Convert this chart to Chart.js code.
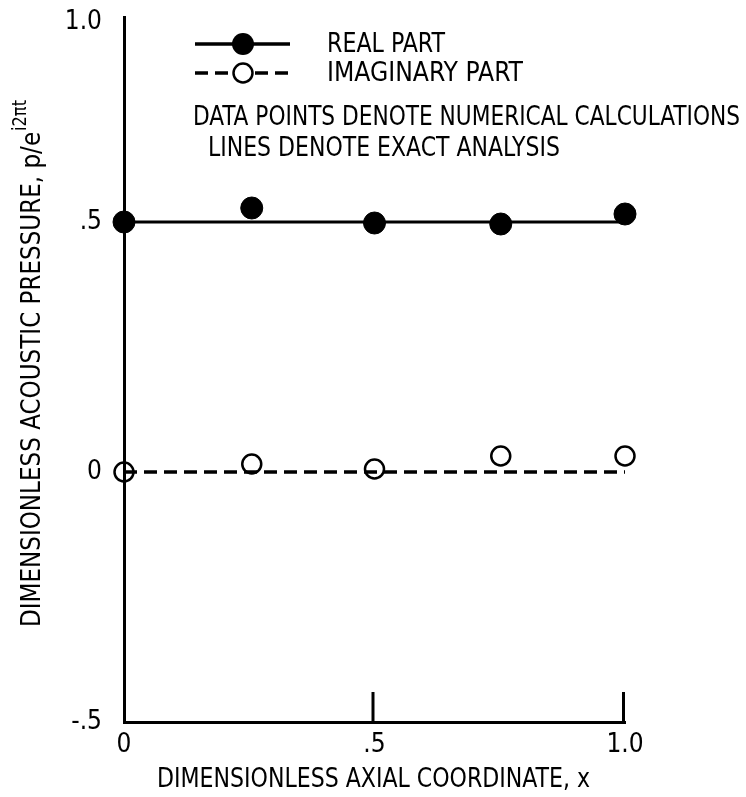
<!DOCTYPE html>
<html>
<head>
<meta charset="utf-8">
<script src="https://cdn.jsdelivr.net/npm/chart.js@4.4.1/dist/chart.umd.min.js"></script>
<style>
  html, body { margin: 0; padding: 0; background: #fff; }
  #wrap { width: 746px; height: 797px; }
</style>
</head>
<body>
<div id="wrap"><canvas id="chart" width="746" height="797"></canvas></div>
<script>
const FONT = '"Liberation Sans Narrow", "DejaVu Sans Condensed", sans-serif';

// numerical calculations (points)
const xPoints = [0, 0.255, 0.5, 0.752, 1.0];
const realCalc = [0.5, 0.528, 0.498, 0.496, 0.516];
const imagCalc = [0, 0.016, 0.006, 0.032, 0.032];

// exact analysis (lines)
const xExact = [0, 1.0];
const realExact = [0.5, 0.5];
const imagExact = [0, 0];

// axes
const xTickValues = [0, 0.5, 1.0];
const xTickLabels = ["0", ".5", "1.0"];
const xTickMarks = [0.5, 1.0];
const yTickValues = [-0.5, 0, 0.5, 0.9];
const yTickLabels = ["-.5", "0", ".5", "1.0"];

const legendLabels = ["REAL PART", "IMAGINARY PART"];
const noteLines = [
  "DATA POINTS DENOTE NUMERICAL CALCULATIONS",
  "LINES DENOTE EXACT ANALYSIS",
];
const xTitle = "DIMENSIONLESS AXIAL COORDINATE, x";
const yTitleMain = "DIMENSIONLESS ACOUSTIC PRESSURE, p/e";
const yTitleSup = "i2\u03c0t";

const toXY = (xs, ys) => xs.map((x, i) => ({ x, y: ys[i] }));

// draw text squeezed/stretched to a given width, left edge at x
function fitText(c, text, x, y, width, size) {
  c.font = `${size}px ${FONT}`;
  const w = c.measureText(text).width;
  c.save();
  c.translate(x, y);
  c.scale(width / w, 1);
  c.fillText(text, 0, 0);
  c.restore();
}

// short ticks pointing up into the plot
const innerTicks = {
  id: "innerTicks",
  afterDraw(chart) {
    const { ctx, chartArea } = chart;
    const x = chart.scales.x;
    ctx.save();
    ctx.strokeStyle = "#000";
    ctx.lineWidth = 3;
    xTickMarks.forEach((v) => {
      const px = x.getPixelForValue(v) - 1.5;
      ctx.beginPath();
      ctx.moveTo(px, chartArea.bottom + 1);
      ctx.lineTo(px, chartArea.bottom - 30);
      ctx.stroke();
    });
    ctx.restore();
  },
};

// legend samples, notes and axis titles
const textLayer = {
  id: "textLayer",
  afterDraw(chart) {
    const c = chart.ctx;
    c.save();
    c.strokeStyle = "#000";
    c.fillStyle = "#000";

    // solid + filled circle
    c.lineWidth = 3.5;
    c.beginPath();
    c.moveTo(195, 44);
    c.lineTo(290, 44);
    c.stroke();
    c.beginPath();
    c.arc(243, 44, 11, 0, Math.PI * 2);
    c.fill();

    // dashed + open circle
    c.lineWidth = 3.5;
    c.setLineDash([13, 7]);
    c.beginPath();
    c.moveTo(195, 73);
    c.lineTo(290, 73);
    c.stroke();
    c.setLineDash([]);
    c.lineWidth = 2.5;
    c.beginPath();
    c.arc(243, 73, 9.5, 0, Math.PI * 2);
    c.fillStyle = "#fff";
    c.fill();
    c.stroke();

    c.fillStyle = "#000";
    c.textBaseline = "middle";
    c.textAlign = "left";
    fitText(c, legendLabels[0], 327, 45, 118, 27);
    fitText(c, legendLabels[1], 327, 74, 196, 27);
    fitText(c, noteLines[0], 193, 118, 547, 27);
    fitText(c, noteLines[1], 208, 149, 352, 27);
    fitText(c, xTitle, 157, 780, 433, 27);

    // y title, rotated, with superscript
    c.font = `27px ${FONT}`;
    const w1 = c.measureText(yTitleMain).width;
    c.font = `19px ${FONT}`;
    const w2 = c.measureText(yTitleSup).width;
    const total = w1 + w2 + 1;
    c.translate(33, 627);
    c.rotate(-Math.PI / 2);
    c.scale(527 / total, 1);
    c.font = `27px ${FONT}`;
    c.fillText(yTitleMain, 0, 0);
    c.font = `19px ${FONT}`;
    c.fillText(yTitleSup, w1 + 1, -12);
    c.restore();
  },
};

const ctx = document.getElementById("chart").getContext("2d");

new Chart(ctx, {
  type: "scatter",
  data: {
    datasets: [
      {
        label: "REAL PART",
        data: toXY(xPoints, realCalc),
        pointRadius: 11,
        pointBackgroundColor: "#000",
        pointBorderColor: "#000",
        pointBorderWidth: 1,
        showLine: false,
        clip: false,
        order: 0,
      },
      {
        label: "IMAGINARY PART",
        data: toXY(xPoints, imagCalc),
        pointRadius: 9.5,
        pointBackgroundColor: "rgba(0,0,0,0)",
        pointBorderColor: "#000",
        pointBorderWidth: 2.5,
        showLine: false,
        clip: false,
        order: 0,
      },
      {
        label: "real exact",
        data: toXY(xExact, realExact),
        showLine: true,
        borderColor: "#000",
        borderWidth: 3,
        pointRadius: 0,
        order: 1,
      },
      {
        label: "imag exact",
        data: toXY(xExact, imagExact),
        showLine: true,
        borderColor: "#000",
        borderWidth: 3.5,
        borderDash: [13, 7],
        pointRadius: 0,
        order: 1,
      },
    ],
  },
  options: {
    responsive: false,
    animation: false,
    devicePixelRatio: 1,
    layout: { padding: { top: 17, right: 121, left: 0, bottom: 0 } },
    plugins: { legend: { display: false }, tooltip: { enabled: false } },
    scales: {
      x: {
        type: "linear",
        min: 0,
        max: 1,
        afterBuildTicks: (s) => {
          s.ticks = xTickValues.map((v) => ({ value: v }));
        },
        afterFit: (s) => {
          s.height = 75;
          s.paddingLeft = 0;
          s.paddingRight = 0;
        },
        ticks: {
          callback: (v, i) => xTickLabels[i],
          font: { family: FONT, size: 26 },
          color: "#000",
          padding: 8,
          maxRotation: 0,
        },
        grid: { display: false, drawTicks: false },
        border: { color: "#000", width: 3 },
      },
      y: {
        type: "linear",
        min: -0.5,
        max: 0.91,
        afterBuildTicks: (s) => {
          s.ticks = yTickValues.map((v) => ({ value: v }));
        },
        afterFit: (s) => {
          s.width = 124;
          // keep the plot top at the layout padding, not label padding
          s.paddingTop = 0;
          s.paddingBottom = 0;
        },
        ticks: {
          callback: (v, i) => yTickLabels[i],
          font: { family: FONT, size: 26 },
          color: "#000",
          padding: 22,
        },
        grid: { display: false, drawTicks: false },
        border: { color: "#000", width: 3 },
      },
    },
  },
  plugins: [innerTicks, textLayer],
});
</script>
</body>
</html>
